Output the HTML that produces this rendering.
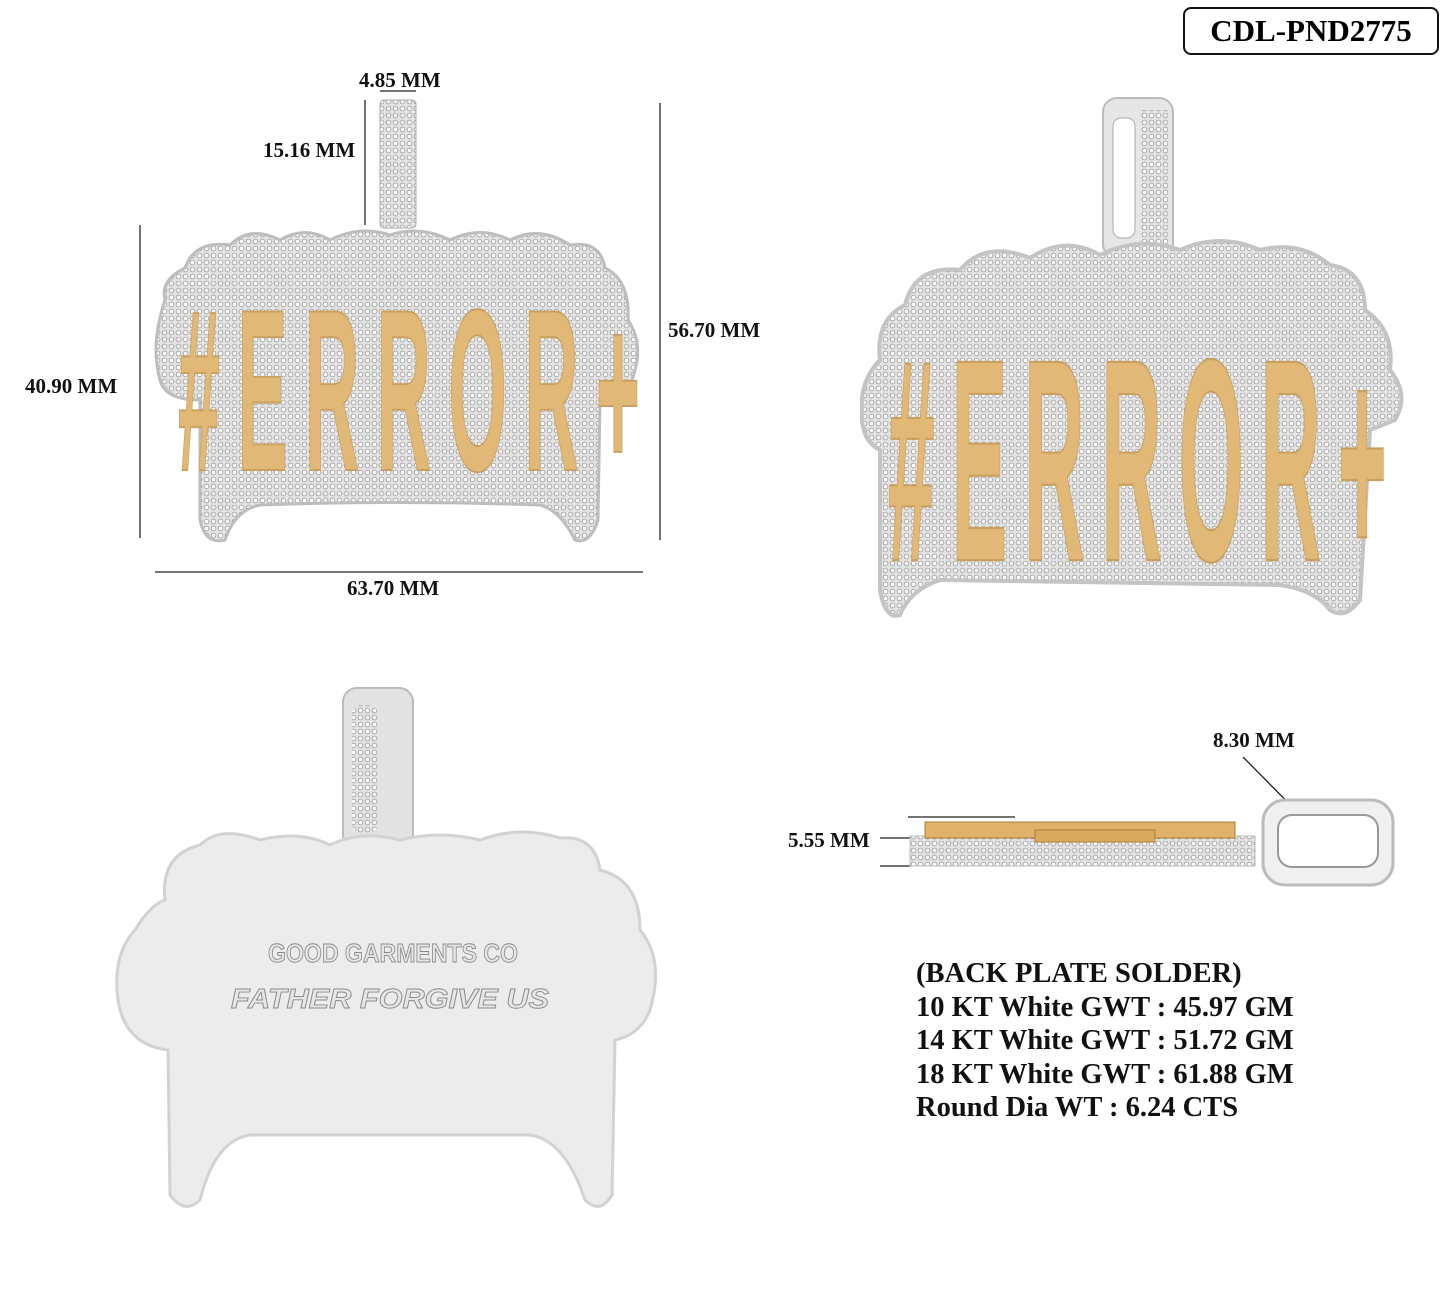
<!DOCTYPE html>
<html><head><meta charset="utf-8"><style>
html,body{margin:0;padding:0;background:#fff;}
body{width:1445px;height:1291px;position:relative;overflow:hidden;font-family:"Liberation Serif",serif;}
.lbl{position:absolute;font-weight:bold;font-size:21px;color:#111;white-space:nowrap;}
.id{position:absolute;left:1183px;top:7px;width:252px;height:44px;border:2px solid #111;border-radius:8px;font-weight:bold;font-size:31px;text-align:center;line-height:44px;}
.info{position:absolute;left:916px;top:957px;font-weight:bold;font-size:28.5px;line-height:33.5px;color:#111;}
</style></head><body>
<div class="id">CDL-PND2775</div>
<svg width="1445" height="1291" style="position:absolute;left:0;top:0">
<defs>
<pattern id="dia" width="7" height="7" patternUnits="userSpaceOnUse"><rect width="7" height="7" fill="#e4e4e4"/><circle cx="3.5" cy="3.5" r="2.4" fill="#fafafa" stroke="#9a9a9a" stroke-width="0.8"/></pattern>
</defs>
<g stroke="#222" stroke-width="1.3">
<line x1="155" y1="572" x2="643" y2="572"/>
<line x1="140" y1="225" x2="140" y2="538"/>
<line x1="660" y1="103" x2="660" y2="540"/>
<line x1="365" y1="100" x2="365" y2="225"/>
<line x1="380" y1="91" x2="416" y2="91"/>
<line x1="908" y1="817" x2="1015" y2="817"/>
<line x1="880" y1="838" x2="910" y2="838"/>
<line x1="880" y1="866" x2="910" y2="866"/>
<line x1="1243" y1="757" x2="1330" y2="845"/>
<line x1="1283" y1="845" x2="1390" y2="845"/>
</g>
<rect x="380" y="100" width="36" height="128" rx="4" fill="url(#dia)" stroke="#aaa"/>
<path d="M165 300 Q160 280 185 268 Q195 240 230 245 Q250 225 280 240 Q305 225 330 240 Q360 225 390 235 Q420 225 450 240 Q480 225 510 240 Q540 225 570 245 Q600 240 605 268 Q630 280 628 320 Q645 345 632 380 Q615 400 600 400 L598 520 Q590 545 575 540 Q560 510 540 505 Q400 500 260 505 Q235 510 225 540 Q205 545 200 520 L200 400 Q165 400 160 380 Q150 345 165 300Z" fill="url(#dia)" stroke="#bdbdbd" stroke-width="3"/>
<text x="0" y="0" transform="translate(178,470) scale(1.05,3.2)" font-family="Liberation Sans Narrow,Liberation Sans,sans-serif" font-weight="bold" font-size="72" fill="#e2b877" stroke="#caa060" stroke-width="0.6" textLength="440">#ERROR+</text>
<rect x="1103" y="98" width="70" height="160" rx="14" fill="#e6e6e6" stroke="#bbb" stroke-width="2"/>
<rect x="1113" y="118" width="22" height="120" rx="8" fill="#fff" stroke="#aaa"/>
<rect x="1140" y="110" width="28" height="135" fill="url(#dia)"/>
<path d="M880 360 Q875 320 905 305 Q915 265 960 270 Q985 240 1030 258 Q1065 235 1100 255 Q1140 235 1180 250 Q1220 232 1260 250 Q1300 240 1330 265 Q1365 270 1365 310 Q1395 330 1390 370 Q1410 395 1395 420 L1370 430 L1360 600 Q1345 620 1330 610 Q1315 590 1280 585 L940 580 Q910 590 900 615 Q885 620 880 590 L880 450 Q860 440 862 410 Q860 380 880 360Z" fill="url(#dia)" stroke="#c4c4c4" stroke-width="4"/>
<text x="0" y="0" transform="translate(888,560) scale(1.05,3.6)" font-family="Liberation Sans Narrow,Liberation Sans,sans-serif" font-weight="bold" font-size="80" fill="#e2b877" stroke="#caa060" stroke-width="0.6" textLength="475">#ERROR+</text>
<rect x="343" y="688" width="70" height="160" rx="14" fill="#e2e2e2" stroke="#bbb" stroke-width="2"/>
<rect x="352" y="705" width="26" height="128" rx="9" fill="url(#dia)"/>
<path d="M165 900 Q160 855 200 845 Q220 825 260 840 Q300 830 330 845 Q360 830 400 840 Q440 830 480 840 Q520 825 560 838 Q595 835 600 870 Q640 880 640 930 Q665 960 650 1010 Q640 1035 615 1040 L612 1195 Q600 1215 585 1200 Q565 1140 530 1135 L250 1135 Q215 1140 200 1200 Q185 1215 170 1195 L168 1050 Q125 1045 118 1000 Q112 955 135 930 Q150 905 165 900Z" fill="#ececec" stroke="#d2d2d2" stroke-width="3"/>
<text x="393" y="962" text-anchor="middle" font-family="Liberation Sans Narrow,Liberation Sans,sans-serif" font-weight="bold" font-size="26" fill="#e6e6e6" stroke="#8a8a8a" stroke-width="0.9" textLength="250" lengthAdjust="spacingAndGlyphs">GOOD GARMENTS CO</text>
<text x="390" y="1008" text-anchor="middle" font-family="Liberation Sans Narrow,Liberation Sans,sans-serif" font-weight="bold" font-style="italic" font-size="28" fill="#e6e6e6" stroke="#8a8a8a" stroke-width="0.9" textLength="318" lengthAdjust="spacingAndGlyphs">FATHER FORGIVE US</text>
<rect x="910" y="836" width="345" height="30" fill="url(#dia)" stroke="#bbb"/>
<rect x="925" y="822" width="310" height="16" fill="#e0b26a" stroke="#a87c3a"/>
<rect x="1035" y="830" width="120" height="12" fill="#d9a95e" stroke="#a87c3a"/>
<rect x="1263" y="800" width="130" height="85" rx="22" fill="#f0f0f0" stroke="#bbb" stroke-width="3"/>
<rect x="1278" y="815" width="100" height="52" rx="14" fill="#fff" stroke="#999" stroke-width="2"/>
</svg>
<div class="lbl" style="left:359px;top:68px">4.85 MM</div>
<div class="lbl" style="left:263px;top:138px">15.16 MM</div>
<div class="lbl" style="left:25px;top:374px">40.90 MM</div>
<div class="lbl" style="left:668px;top:318px">56.70 MM</div>
<div class="lbl" style="left:347px;top:576px">63.70 MM</div>
<div class="lbl" style="left:1213px;top:728px">8.30 MM</div>
<div class="lbl" style="left:788px;top:828px">5.55 MM</div>
<div class="info">(BACK PLATE SOLDER)<br>10 KT White GWT : 45.97 GM<br>14 KT White GWT : 51.72 GM<br>18 KT White GWT : 61.88 GM<br>Round Dia WT : 6.24 CTS</div>
</body></html>
